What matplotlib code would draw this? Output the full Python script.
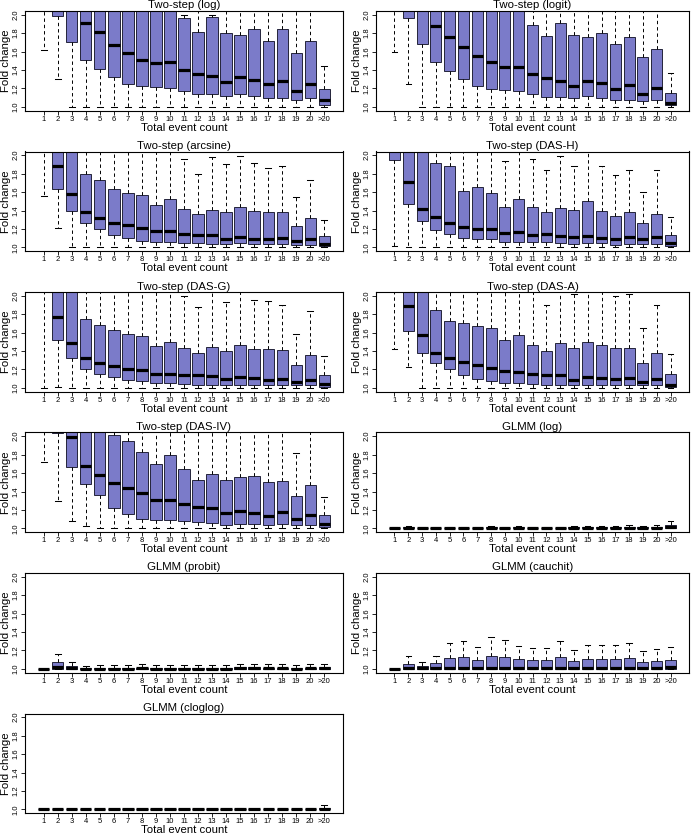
import matplotlib
matplotlib.use("Agg")
import matplotlib.pyplot as plt

plt.rcParams['font.family'] = ['Liberation Sans', 'DejaVu Sans']

categories = [str(i) for i in range(1, 21)] + ['>20']
y_ticks = [1.0, 1.2, 1.4, 1.6, 1.8, 2.0]
y_tick_labels = ['1.0', '1.2', '1.4', '1.6', '1.8', '2.0']

# ---- Two-step (log)
log_lo = [1.62, 1.30, 1.0, 1.0, 1.0, 1.0, 1.0, 1.0, 1.0, 1.0, 1.0, 1.0, 1.0, 1.0, 1.0, 1.0, 1.0, 1.0, 1.0, 1.0, 1.0]
log_q1 = [2.9, 1.99, 1.70, 1.51, 1.41, 1.32, 1.25, 1.23, 1.22, 1.20, 1.17, 1.145, 1.135, 1.12, 1.135, 1.115, 1.10, 1.10, 1.075, 1.10, 1.025]
log_med = [3.5, 2.6, 2.2, 1.91, 1.81, 1.67, 1.585, 1.51, 1.48, 1.49, 1.395, 1.36, 1.335, 1.27, 1.32, 1.295, 1.25, 1.285, 1.17, 1.25, 1.07]
log_q3 = [4.2, 3.4, 2.9, 2.6, 2.45, 2.35, 2.25, 2.2, 2.15, 2.12, 1.965, 1.81, 1.97, 1.80, 1.785, 1.85, 1.71, 1.85, 1.58, 1.71, 1.19]
log_hi = [5.5, 5.0, 4.4, 4.0, 3.7, 3.5, 3.4, 3.3, 3.2, 3.2, 2.0, 2.9, 2.0, 2.8, 2.7, 2.8, 2.6, 2.75, 2.5, 2.6, 1.445]

# ---- Two-step (logit)
logit_lo = [1.59, 1.245, 1.0, 1.0, 1.0, 1.0, 1.0, 1.0, 1.0, 1.0, 1.0, 1.0, 1.0, 1.0, 1.0, 1.0, 1.0, 1.0, 1.0, 1.0, 1.0]
logit_q1 = [2.8, 1.96, 1.68, 1.49, 1.39, 1.30, 1.23, 1.195, 1.18, 1.17, 1.145, 1.11, 1.105, 1.095, 1.12, 1.095, 1.08, 1.08, 1.06, 1.08, 1.018]
logit_med = [3.4, 2.5, 2.15, 1.88, 1.755, 1.645, 1.555, 1.485, 1.43, 1.43, 1.355, 1.31, 1.285, 1.23, 1.285, 1.255, 1.195, 1.235, 1.145, 1.21, 1.047]
logit_q3 = [4.0, 3.2, 2.8, 2.5, 2.4, 2.3, 2.2, 2.15, 2.1, 2.08, 1.89, 1.765, 1.915, 1.78, 1.755, 1.80, 1.685, 1.76, 1.545, 1.625, 1.155]
logit_hi = [5.2, 4.8, 4.2, 3.8, 3.6, 3.4, 3.3, 3.2, 3.1, 3.1, 2.8, 2.6, 2.9, 2.7, 2.6, 2.7, 2.5, 2.6, 2.3, 2.4, 1.37]

# ---- Two-step (arcsine)
arcsine_lo = [1.56, 1.21, 1.0, 1.0, 1.0, 1.0, 1.0, 1.0, 1.0, 1.0, 1.0, 1.0, 1.0, 1.0, 1.0, 1.0, 1.0, 1.0, 1.0, 1.0, 1.0]
arcsine_q1 = [2.3, 1.63, 1.39, 1.27, 1.195, 1.13, 1.10, 1.07, 1.058, 1.058, 1.05, 1.043, 1.04, 1.04, 1.043, 1.04, 1.04, 1.04, 1.03, 1.03, 1.014]
arcsine_med = [2.8, 1.88, 1.58, 1.38, 1.32, 1.27, 1.245, 1.213, 1.18, 1.18, 1.148, 1.14, 1.13, 1.094, 1.112, 1.094, 1.094, 1.10, 1.07, 1.09, 1.036]
arcsine_q3 = [3.4, 2.4, 2.1, 1.795, 1.726, 1.628, 1.592, 1.57, 1.462, 1.523, 1.42, 1.36, 1.41, 1.386, 1.437, 1.40, 1.386, 1.386, 1.235, 1.318, 1.123]
arcsine_hi = [4.6, 3.6, 3.1, 2.6, 2.5, 2.4, 2.3, 2.25, 2.15, 2.2, 1.957, 1.80, 1.975, 1.90, 1.99, 1.917, 1.866, 1.885, 1.552, 1.733, 1.30]

# ---- Two-step (DAS-H)
dash_lo = [1.01, 1.0, 1.0, 1.0, 1.0, 1.0, 1.0, 1.0, 1.0, 1.0, 1.0, 1.0, 1.0, 1.0, 1.0, 1.0, 1.0, 1.0, 1.0, 1.0, 1.0]
dash_q1 = [1.953, 1.469, 1.282, 1.184, 1.144, 1.105, 1.087, 1.087, 1.061, 1.061, 1.054, 1.054, 1.043, 1.04, 1.043, 1.043, 1.03, 1.04, 1.036, 1.036, 1.014]
dash_med = [2.5, 1.708, 1.419, 1.325, 1.27, 1.224, 1.195, 1.202, 1.159, 1.162, 1.137, 1.148, 1.126, 1.112, 1.119, 1.105, 1.094, 1.112, 1.09, 1.116, 1.047]
dash_q3 = [3.2, 2.3, 2.15, 1.92, 1.885, 1.617, 1.66, 1.585, 1.433, 1.527, 1.437, 1.386, 1.422, 1.404, 1.498, 1.39, 1.343, 1.379, 1.264, 1.357, 1.134]
dash_hi = [4.5, 3.5, 3.2, 2.7, 2.6, 2.4, 2.4, 2.3, 1.935, 2.2, 1.957, 1.841, 1.996, 1.88, 2.2, 1.888, 1.79, 1.841, 1.596, 1.837, 1.325]

# ---- Two-step (DAS-G)
dasg_lo = [1.0, 1.01, 1.0, 1.0, 1.0, 1.0, 1.0, 1.0, 1.0, 1.0, 1.0, 1.0, 1.0, 1.0, 1.0, 1.0, 1.0, 1.0, 1.0, 1.0, 1.0]
dasg_q1 = [2.6, 1.52, 1.32, 1.20, 1.155, 1.12, 1.09, 1.075, 1.058, 1.058, 1.047, 1.036, 1.036, 1.036, 1.036, 1.036, 1.036, 1.036, 1.029, 1.029, 1.011]
dasg_med = [3.2, 1.772, 1.49, 1.32, 1.27, 1.235, 1.205, 1.19, 1.153, 1.156, 1.142, 1.135, 1.124, 1.095, 1.113, 1.105, 1.091, 1.098, 1.069, 1.091, 1.04]
dasg_q3 = [3.9, 2.3, 2.15, 1.743, 1.68, 1.625, 1.58, 1.566, 1.45, 1.495, 1.436, 1.378, 1.447, 1.396, 1.462, 1.418, 1.418, 1.407, 1.251, 1.356, 1.145]
dasg_hi = [5.0, 3.5, 3.2, 2.7, 2.6, 2.5, 2.4, 2.3, 2.2, 2.2, 1.993, 1.875, 2.2, 1.93, 2.2, 1.952, 1.94, 1.904, 1.585, 1.835, 1.345]

# ---- Two-step (DAS-A)
dasa_lo = [1.422, 1.225, 1.0, 1.0, 1.0, 1.0, 1.0, 1.0, 1.0, 1.0, 1.0, 1.0, 1.0, 1.0, 1.0, 1.0, 1.0, 1.0, 1.0, 1.0, 1.0]
dasa_q1 = [2.6, 1.618, 1.382, 1.265, 1.20, 1.145, 1.098, 1.073, 1.058, 1.058, 1.047, 1.036, 1.036, 1.036, 1.036, 1.036, 1.036, 1.036, 1.029, 1.029, 1.011]
dasa_med = [3.2, 1.89, 1.575, 1.378, 1.327, 1.276, 1.251, 1.218, 1.185, 1.175, 1.153, 1.142, 1.142, 1.091, 1.12, 1.109, 1.102, 1.105, 1.069, 1.098, 1.036]
dasa_q3 = [3.9, 2.3, 2.15, 1.84, 1.73, 1.709, 1.676, 1.648, 1.52, 1.571, 1.469, 1.404, 1.484, 1.433, 1.495, 1.462, 1.433, 1.433, 1.273, 1.375, 1.153]
dasa_hi = [5.0, 3.5, 3.2, 2.7, 2.6, 2.5, 2.4, 2.3, 2.2, 2.2, 2.2, 1.898, 2.2, 2.014, 2.2, 2.2, 1.992, 2.02, 1.648, 1.898, 1.367]

# ---- Two-step (DAS-IV)
dasiv_lo = [1.718, 1.30, 1.085, 1.028, 1.0, 1.0, 1.0, 1.0, 1.0, 1.0, 1.0, 1.0, 1.0, 1.0, 1.0, 1.0, 1.0, 1.0, 1.0, 1.0, 1.0]
dasiv_q1 = [2.6, 2.03, 1.664, 1.477, 1.365, 1.22, 1.159, 1.10, 1.087, 1.087, 1.076, 1.069, 1.054, 1.04, 1.05, 1.047, 1.032, 1.047, 1.032, 1.036, 1.014]
dasiv_med = [3.2, 2.4, 1.995, 1.68, 1.58, 1.49, 1.44, 1.386, 1.307, 1.307, 1.267, 1.235, 1.22, 1.162, 1.184, 1.17, 1.137, 1.177, 1.097, 1.14, 1.043]
dasiv_q3 = [3.9, 2.9, 2.5, 2.3, 2.2, 2.008, 1.953, 1.83, 1.70, 1.80, 1.643, 1.523, 1.592, 1.53, 1.56, 1.563, 1.50, 1.51, 1.354, 1.473, 1.144]
dasiv_hi = [5.0, 4.0, 3.5, 3.2, 3.0, 2.8, 2.7, 2.6, 2.5, 2.5, 2.4, 2.3, 2.4, 2.3, 2.3, 2.3, 2.2, 2.3, 1.823, 2.2, 1.336]

# ---- GLMM (log)
glog_lo = [1.0] * 21
glog_q1 = [1.0] * 21
glog_med = [1.002, 1.005, 1.003, 1.002, 1.003, 1.003, 1.003, 1.004, 1.003, 1.004, 1.003, 1.003, 1.003, 1.004, 1.005, 1.004, 1.004, 1.005, 1.004, 1.005, 1.015]
glog_q3 = [1.006, 1.012, 1.009, 1.007, 1.009, 1.009, 1.008, 1.011, 1.009, 1.010, 1.009, 1.009, 1.009, 1.010, 1.012, 1.010, 1.011, 1.012, 1.010, 1.013, 1.035]
glog_hi = [1.012, 1.028, 1.020, 1.015, 1.020, 1.020, 1.018, 1.024, 1.020, 1.022, 1.020, 1.020, 1.020, 1.022, 1.028, 1.022, 1.025, 1.035, 1.022, 1.032, 1.085]

# ---- GLMM (probit)
probit_lo = [1.0] * 21
probit_q1 = [1.0] * 21
probit_med = [1.0, 1.02, 1.01, 1.003, 1.004, 1.004, 1.004, 1.005, 1.004, 1.004, 1.004, 1.004, 1.004, 1.004, 1.005, 1.005, 1.005, 1.005, 1.004, 1.005, 1.005]
probit_q3 = [1.0, 1.073, 1.036, 1.015, 1.014, 1.014, 1.014, 1.015, 1.014, 1.014, 1.014, 1.014, 1.013, 1.014, 1.016, 1.016, 1.015, 1.015, 1.014, 1.015, 1.016]
probit_hi = [1.0, 1.167, 1.076, 1.036, 1.047, 1.045, 1.047, 1.055, 1.047, 1.047, 1.045, 1.047, 1.040, 1.045, 1.052, 1.055, 1.050, 1.050, 1.047, 1.048, 1.050]

# ---- GLMM (cauchit)
cauchit_lo = [1.0] * 21
cauchit_q1 = [1.0] * 21
cauchit_med = [1.0, 1.01, 1.005, 1.01, 1.01, 1.012, 1.01, 1.012, 1.012, 1.012, 1.012, 1.012, 1.012, 1.01, 1.012, 1.012, 1.015, 1.012, 1.01, 1.012, 1.02]
cauchit_q3 = [1.0, 1.058, 1.036, 1.062, 1.113, 1.127, 1.095, 1.138, 1.124, 1.105, 1.095, 1.095, 1.124, 1.084, 1.105, 1.105, 1.109, 1.113, 1.08, 1.091, 1.095]
cauchit_hi = [1.0, 1.135, 1.073, 1.138, 1.28, 1.30, 1.233, 1.345, 1.31, 1.244, 1.222, 1.229, 1.298, 1.20, 1.255, 1.258, 1.258, 1.276, 1.193, 1.215, 1.24]

# ---- GLMM (cloglog)
cloglog_lo = [1.0] * 21
cloglog_q1 = [1.0] * 21
cloglog_med = [1.0, 1.002, 1.0, 1.0, 1.0, 1.0, 1.0, 1.001, 1.0, 1.0, 1.001, 1.0, 1.0, 1.0, 1.002, 1.0, 1.001, 1.002, 1.0, 1.002, 1.006]
cloglog_q3 = [1.002, 1.008, 1.002, 1.002, 1.003, 1.003, 1.003, 1.004, 1.003, 1.003, 1.004, 1.003, 1.003, 1.003, 1.007, 1.003, 1.004, 1.007, 1.003, 1.008, 1.020]
cloglog_hi = [1.004, 1.012, 1.005, 1.004, 1.006, 1.006, 1.006, 1.008, 1.006, 1.006, 1.008, 1.006, 1.006, 1.006, 1.012, 1.006, 1.008, 1.012, 1.006, 1.014, 1.043]

panel_titles = ['Two-step (log)', 'Two-step (logit)', 'Two-step (arcsine)', 'Two-step (DAS-H)',
                'Two-step (DAS-G)', 'Two-step (DAS-A)', 'Two-step (DAS-IV)', 'GLMM (log)',
                'GLMM (probit)', 'GLMM (cauchit)', 'GLMM (cloglog)']
panel_stats = [
    (log_lo, log_q1, log_med, log_q3, log_hi),
    (logit_lo, logit_q1, logit_med, logit_q3, logit_hi),
    (arcsine_lo, arcsine_q1, arcsine_med, arcsine_q3, arcsine_hi),
    (dash_lo, dash_q1, dash_med, dash_q3, dash_hi),
    (dasg_lo, dasg_q1, dasg_med, dasg_q3, dasg_hi),
    (dasa_lo, dasa_q1, dasa_med, dasa_q3, dasa_hi),
    (dasiv_lo, dasiv_q1, dasiv_med, dasiv_q3, dasiv_hi),
    (glog_lo, glog_q1, glog_med, glog_q3, glog_hi),
    (probit_lo, probit_q1, probit_med, probit_q3, probit_hi),
    (cauchit_lo, cauchit_q1, cauchit_med, cauchit_q3, cauchit_hi),
    (cloglog_lo, cloglog_q1, cloglog_med, cloglog_q3, cloglog_hi),
]

W, H = 695, 835
fig = plt.figure(figsize=(W / 100, H / 100), dpi=100)
fig.patch.set_facecolor('white')

BOX_FILL = '#7B7BC9'
col_left = [25, 376]
col_width = [318, 313]
row_top0 = 11.0
row_pitch = 140.5
ax_h = 99.6

for i, (title, st) in enumerate(zip(panel_titles, panel_stats)):
    row, col = divmod(i, 2)
    left = col_left[col]
    top = row_top0 + row * row_pitch
    ax = fig.add_axes([left / W, 1 - (top + ax_h) / H, col_width[col] / W, ax_h / H])
    lo, q1, med, q3, hi = st
    stats = [dict(whislo=a, q1=b, med=c, q3=d, whishi=e, label=lab)
             for a, b, c, d, e, lab in zip(lo, q1, med, q3, hi, categories)]
    ax.bxp(stats, positions=list(range(1, 22)), widths=0.8, capwidths=0.4,
           patch_artist=True, showfliers=False,
           boxprops=dict(facecolor=BOX_FILL, edgecolor='#24243a', linewidth=0.7),
           medianprops=dict(color='black', linewidth=2.3, solid_capstyle='butt'),
           whiskerprops=dict(color='black', linewidth=0.7, linestyle=(0, (3.5, 3.0))),
           capprops=dict(color='black', linewidth=0.75))
    ax.set_xlim(-0.34, 22.34)
    ax.set_ylim(0.96, 2.04)
    ax.set_xticks(range(1, 22))
    ax.set_xticklabels(categories, fontsize=5.5)
    ax.set_yticks(y_ticks)
    ax.set_yticklabels(y_tick_labels, fontsize=5.5, rotation=90, va='center')
    ax.tick_params(axis='both', direction='out', length=2.6, width=0.6, pad=1.2, color='black')
    for sp in ax.spines.values():
        sp.set_linewidth(0.8)
        sp.set_color('black')
    ax.set_title(title, fontsize=8.2, pad=1.8)
    ax.set_xlabel('Total event count', fontsize=8.2, labelpad=0)
    ax.set_ylabel('Fold change', fontsize=8.2, labelpad=1.2)

fig.savefig('out.png', dpi=100, facecolor='white')
